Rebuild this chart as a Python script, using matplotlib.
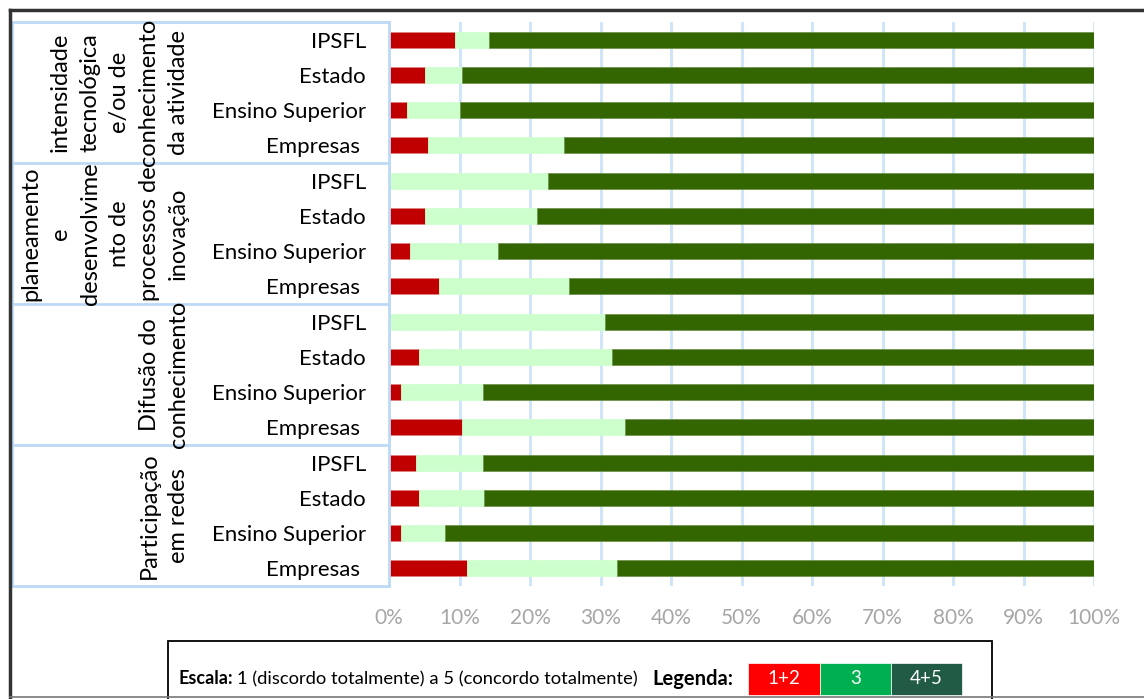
import matplotlib
matplotlib.use("Agg")
import matplotlib.pyplot as plt
from matplotlib.patches import Rectangle
from matplotlib.lines import Line2D

# ---------------- data ----------------
categories = ["IPSFL", "Estado", "Ensino Superior", "Empresas "] * 4
groups = [
    "intensidade\ntecnológica\ne/ou de\nconhecimento\nda atividade",
    "planeamento\ne\ndesenvolvime\nnto de\nprocessos de\ninovação",
    "Difusão do\nconhecimento",
    "Participação\nem redes",
]
val_12 = [9.3, 5.1, 2.6, 5.6,
          0.0, 5.1, 3.0, 7.1,
          0.0, 4.3, 1.7, 10.4,
          3.9, 4.3, 1.7, 11.1]
val_3 = [4.9, 5.3, 7.5, 19.2,
         22.6, 15.9, 12.5, 18.5,
         30.7, 27.4, 11.6, 23.1,
         9.5, 9.2, 6.2, 21.2]
val_45 = [100 - a - b for a, b in zip(val_12, val_3)]
xticks = [0, 10, 20, 30, 40, 50, 60, 70, 80, 90, 100]
xticklabels = [f"{t}%" for t in xticks]
legend_labels = ["1+2", "3", "4+5"]

# ---------------- style ----------------
W, H = 1144, 699
plt.rcParams['font.family'] = ['Lato', 'DejaVu Sans']
fig = plt.figure(figsize=(W / 100, H / 100), dpi=100)

def fx(x):
    return x / W

def fy(y):
    return 1 - y / H

C_RED = "#C00000"
C_LIGHT = "#CCFFCC"
C_DARK = "#336600"
GRID = "#CDE4FA"
TABLE = "#BDD9F5"

x0, x1, y0, y1 = 389, 1094, 22, 586
ax = fig.add_axes([fx(x0), fy(y1), fx(x1) - fx(x0), fy(y0) - fy(y1)])
n = len(categories)
ypos = list(range(n))
ax.barh(ypos, val_12, height=0.46, color=C_RED, edgecolor="#E08080", linewidth=0.5, zorder=3)
ax.barh(ypos, val_3, left=val_12, height=0.46, color=C_LIGHT, edgecolor=C_LIGHT, linewidth=0.5, zorder=3)
left2 = [a + b for a, b in zip(val_12, val_3)]
ax.barh(ypos, val_45, left=left2, height=0.46, color=C_DARK, edgecolor="#6B8F4A", linewidth=0.5, zorder=3)
ax.set_xlim(0, 100)
ax.set_ylim(n - 0.5, -0.5)
ax.set_xticks(xticks)
ax.set_xticklabels(xticklabels, color="#A6A6A6", fontsize=15)
ax.tick_params(axis='x', length=0, pad=16)
ax.set_yticks(ypos)
ax.set_yticklabels(categories, fontsize=16)
ax.tick_params(axis='y', length=0, pad=16.5)
for s in ax.spines.values():
    s.set_visible(False)
ax.xaxis.grid(True, color=GRID, linewidth=2, zorder=0)
ax.set_axisbelow(True)

# table lines on the left
for yy in [22, 163, 304, 445, 586]:
    fig.add_artist(Line2D([fx(12), fx(389)], [fy(yy), fy(yy)], color=TABLE, lw=2))
fig.add_artist(Line2D([fx(12), fx(12)], [fy(22), fy(586)], color=TABLE, lw=2))
fig.add_artist(Line2D([fx(389), fx(389)], [fy(22), fy(586)], color=TABLE, lw=2))

# group labels
for i, g in enumerate(groups):
    yc = (22 + 141 * i + 22 + 141 * (i + 1)) / 2
    fig.text(fx(189), fy(yc), g, rotation=90, ha='right', va='center',
             multialignment='center', fontsize=17, linespacing=1.5)

# figure border
fig.add_artist(Line2D([fx(10), fx(10)], [fy(10), fy(699)], color="#333333", lw=2.5))
fig.add_artist(Line2D([fx(10), fx(1144)], [fy(10), fy(10)], color="#333333", lw=2.5))
fig.add_artist(Line2D([fx(10), fx(1144)], [fy(697), fy(697)], color="#777777", lw=1.2))

# legend box
fig.add_artist(Rectangle((fx(168), fy(700)), fx(992) - fx(168), fy(641) - fy(700),
                         fill=False, edgecolor="black", lw=1.3))
fig.text(fx(178), fy(679), "Escala:", fontsize=13, fontweight='bold', va='center')
fig.text(fx(237), fy(679), "1 (discordo totalmente) a 5 (concordo totalmente)", fontsize=13.2, va='center')
fig.text(fx(652), fy(679), "Legenda:", fontsize=14.5, fontweight='bold', va='center')
box_cols = ["#FF0000", "#00B050", "#215A45"]
bx = [748, 820, 891, 962]
for i, (lab, c) in enumerate(zip(legend_labels, box_cols)):
    fig.add_artist(Rectangle((fx(bx[i]), fy(695)), fx(bx[i + 1]) - fx(bx[i]), fy(663) - fy(695),
                             facecolor=c, edgecolor="white", lw=0.5))
    fig.text(fx((bx[i] + bx[i + 1]) / 2), fy(679), lab, color="white", fontsize=13.5,
             ha='center', va='center')

fig.savefig("out.png", dpi=100)
